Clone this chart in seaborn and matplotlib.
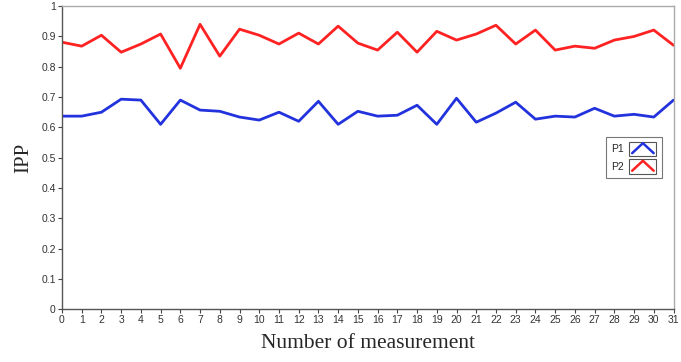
import numpy as np
import pandas as pd
import matplotlib
matplotlib.use("Agg")
import matplotlib.pyplot as plt
import seaborn as sns
from matplotlib.legend_handler import HandlerBase
from matplotlib.lines import Line2D
from matplotlib.patches import Rectangle

# valores
medicoes = list(range(32))
p1 = [0.637, 0.637, 0.650, 0.693, 0.690, 0.610, 0.690, 0.657, 0.653, 0.634,
      0.624, 0.650, 0.620, 0.686, 0.610, 0.653, 0.637, 0.640, 0.673, 0.610,
      0.696, 0.617, 0.647, 0.683, 0.627, 0.637, 0.634, 0.663, 0.637, 0.643,
      0.634, 0.690]
p2 = [0.881, 0.868, 0.904, 0.848, 0.875, 0.908, 0.795, 0.940, 0.835, 0.924,
      0.904, 0.875, 0.911, 0.875, 0.934, 0.878, 0.855, 0.914, 0.848, 0.917,
      0.888, 0.908, 0.937, 0.875, 0.921, 0.855, 0.868, 0.861, 0.888, 0.900,
      0.921, 0.871]
series = ["P1", "P2"]
cores = {"P1": "#2233dd", "P2": "#ff2222"}

df = pd.DataFrame({
    "medicao": medicoes * 2,
    "IPP": p1 + p2,
    "serie": ["P1"] * len(p1) + ["P2"] * len(p2),
})

sns.set_style("white")
plt.rcParams["font.family"] = ["Liberation Sans", "DejaVu Sans"]


# simbolo da legenda: caixinha com um "v" invertido
class HandlerChevron(HandlerBase):
    def create_artists(self, legend, orig_handle, xdescent, ydescent,
                       width, height, fontsize, trans):
        box = Rectangle((-xdescent, -ydescent - 1), width, height + 2,
                        facecolor="white", edgecolor="#555555", lw=0.8,
                        transform=trans)
        line = Line2D([-xdescent + 2, -xdescent + width / 2, -xdescent + width - 2],
                      [-ydescent + 1, -ydescent + height, -ydescent + 1],
                      color=orig_handle.get_color(), lw=1.8, transform=trans)
        return [box, line]


fig = plt.figure(figsize=(6.81, 3.62), dpi=100)
ax = fig.add_axes([0.091, 0.146, 0.898, 0.837])

sns.lineplot(data=df, x="medicao", y="IPP", hue="serie", palette=cores,
             linewidth=2.0, ax=ax, legend=False)

ax.set_xlim(0, 31)
ax.set_ylim(0, 1)
ax.set_xticks(medicoes)
ax.set_yticks(np.arange(0, 1.01, 0.1))
ax.set_yticklabels(["0", "0.1", "0.2", "0.3", "0.4", "0.5", "0.6", "0.7",
                    "0.8", "0.9", "1"])
ax.tick_params(axis="both", labelsize=7.5, length=3, width=0.8,
               color="#444444", labelcolor="#333333", pad=1.5, direction="out")
ax.tick_params(axis="x", bottom=True)
ax.tick_params(axis="y", left=True)

for lado in ["left", "bottom"]:
    ax.spines[lado].set_color("#555555")
    ax.spines[lado].set_linewidth(1.0)
for lado in ["top", "right"]:
    ax.spines[lado].set_color("#aaaaaa")
    ax.spines[lado].set_linewidth(1.0)

ax.set_xlabel("Number of measurement", family=["Liberation Serif"], fontsize=15.5,
              labelpad=6)
ax.set_ylabel("IPP", family=["Liberation Serif"], fontsize=15, labelpad=6)

handles = [Line2D([], [], color=cores[s]) for s in series]
leg = ax.legend(handles, series, handler_map={Line2D: HandlerChevron()},
                loc="center right", bbox_to_anchor=(0.99, 0.5),
                fontsize=7.5, frameon=True, fancybox=False,
                edgecolor="#555555", handlelength=2.6, handleheight=1.3,
                handletextpad=0.5, borderpad=0.55, labelspacing=0.6,
                markerfirst=False)
leg.get_frame().set_linewidth(0.8)

fig.savefig("out.png", dpi=100)
